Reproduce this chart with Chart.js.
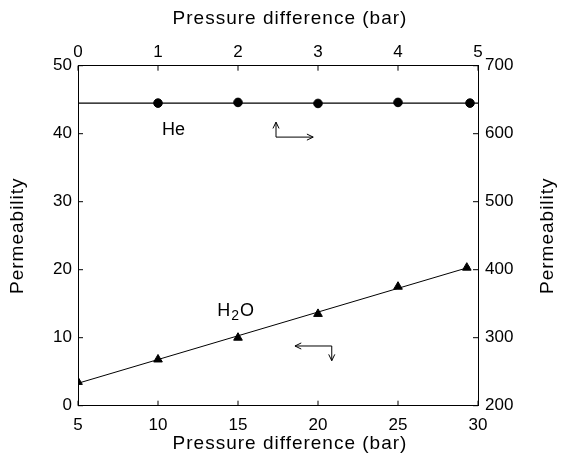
<!DOCTYPE html>
<html>
<head>
<meta charset="utf-8">
<script src="https://cdn.jsdelivr.net/npm/chart.js@4.4.1/dist/chart.umd.min.js"></script>
<style>
html,body{margin:0;padding:0;background:#fff;}
#wrap{width:561px;height:461px;position:relative;}
</style>
</head>
<body>
<div id="wrap"><canvas id="c" width="561" height="461"></canvas></div>
<script>
// ---- data ----
const heP = [1, 2, 3, 4, 4.9];                 // top axis, bar
const heVal = [645, 646, 644.5, 646, 645];     // right axis
const heFitP = [0, 5];
const heFitVal = [645, 645];
const h2oP = [5, 10, 15, 20, 25, 29.3];        // bottom axis, bar
const h2oVal = [3.5, 6.8, 10, 13.5, 17.5, 20.3]; // left axis
const h2oFitP = [5, 29.5];
const h2oFitVal = [3.3, 20.4];
const xTitle = 'Pressure difference (bar)';
const yTitle = 'Permeability';

const pts = (xs, ys) => xs.map((x, i) => ({x: x, y: ys[i]}));
const FONT = '"Liberation Sans", Arial, sans-serif';
const tickFont = {family: FONT, size: 17};

const annot = {
  he: {text: 'He', x: 1.05, y: 606},           // x2 / y2 units
  h2o: {x: 13.7, y: 13.9},                     // x / y units
  arrow1: {cx: 2.475, cy: 595, ux: 2.475, uy: 617, rx: 2.94, ry: 595},
  arrow2: {cx: 20.86, cy: 8.78, lx: 18.56, ly: 8.78, dx: 20.86, dy: 6.62}
};

const sizes = {left: 78, right: 83, top: 65.7, bottom: 55.3};

function arrowHead(ctx, x0, y0, x1, y1, len) {
  const a = Math.atan2(y1 - y0, x1 - x0);
  const w = 0.45;
  ctx.beginPath();
  ctx.moveTo(x1 - len * Math.cos(a - w), y1 - len * Math.sin(a - w));
  ctx.lineTo(x1, y1);
  ctx.lineTo(x1 - len * Math.cos(a + w), y1 - len * Math.sin(a + w));
  ctx.stroke();
}

const extras = {
  id: 'extras',
  afterDraw(chart) {
    const ctx = chart.ctx;
    const s = chart.scales;
    const ca = chart.chartArea;
    ctx.save();
    ctx.strokeStyle = '#000';
    ctx.fillStyle = '#000';
    ctx.lineWidth = 1;
    // inner ticks
    const tl = 5;
    s.x.ticks.forEach(t => { const p = s.x.getPixelForValue(t.value); ctx.beginPath(); ctx.moveTo(p, ca.bottom); ctx.lineTo(p, ca.bottom - tl); ctx.stroke(); });
    s.x2.ticks.forEach(t => { const p = s.x2.getPixelForValue(t.value); ctx.beginPath(); ctx.moveTo(p, ca.top); ctx.lineTo(p, ca.top + tl); ctx.stroke(); });
    s.y.ticks.forEach(t => { const p = s.y.getPixelForValue(t.value); ctx.beginPath(); ctx.moveTo(ca.left, p); ctx.lineTo(ca.left + tl, p); ctx.stroke(); });
    s.y2.ticks.forEach(t => { const p = s.y2.getPixelForValue(t.value); ctx.beginPath(); ctx.moveTo(ca.right, p); ctx.lineTo(ca.right - tl, p); ctx.stroke(); });

    // axis titles
    ctx.font = '19px ' + FONT;
    ctx.letterSpacing = '1px';
    ctx.textAlign = 'center';
    ctx.textBaseline = 'middle';
    const cx = (ca.left + ca.right) / 2 + 12;
    ctx.fillText(xTitle, cx, 19);
    ctx.fillText(xTitle, cx, 444);
    const cy = (ca.top + ca.bottom) / 2;
    ctx.save(); ctx.translate(18, cy); ctx.rotate(-Math.PI / 2); ctx.fillText(yTitle, 0, 0); ctx.restore();
    ctx.save(); ctx.translate(548, cy); ctx.rotate(-Math.PI / 2); ctx.fillText(yTitle, 0, 0); ctx.restore();
    ctx.letterSpacing = '0px';

    // series labels
    ctx.font = '18px ' + FONT;
    ctx.textAlign = 'left';
    ctx.fillText(annot.he.text, s.x2.getPixelForValue(annot.he.x), s.y2.getPixelForValue(annot.he.y));
    const hx = s.x.getPixelForValue(annot.h2o.x), hy = s.y.getPixelForValue(annot.h2o.y);
    ctx.fillText('H', hx, hy);
    let w = ctx.measureText('H').width;
    ctx.font = '14px ' + FONT;
    ctx.fillText('2', hx + w + 1, hy + 5);
    const w2 = ctx.measureText('2').width;
    ctx.font = '18px ' + FONT;
    ctx.fillText('O', hx + w + w2 + 2, hy);

    // arrows
    const a1 = annot.arrow1;
    const c1x = s.x2.getPixelForValue(a1.cx), c1y = s.y2.getPixelForValue(a1.cy);
    const u1x = s.x2.getPixelForValue(a1.ux), u1y = s.y2.getPixelForValue(a1.uy);
    const r1x = s.x2.getPixelForValue(a1.rx), r1y = s.y2.getPixelForValue(a1.ry);
    ctx.beginPath(); ctx.moveTo(u1x, u1y); ctx.lineTo(c1x, c1y); ctx.lineTo(r1x, r1y); ctx.stroke();
    arrowHead(ctx, c1x, c1y, u1x, u1y, 7);
    arrowHead(ctx, c1x, c1y, r1x, r1y, 7);
    const a2 = annot.arrow2;
    const c2x = s.x.getPixelForValue(a2.cx), c2y = s.y.getPixelForValue(a2.cy);
    const l2x = s.x.getPixelForValue(a2.lx), l2y = s.y.getPixelForValue(a2.ly);
    const d2x = s.x.getPixelForValue(a2.dx), d2y = s.y.getPixelForValue(a2.dy);
    ctx.beginPath(); ctx.moveTo(l2x, l2y); ctx.lineTo(c2x, c2y); ctx.lineTo(d2x, d2y); ctx.stroke();
    arrowHead(ctx, c2x, c2y, l2x, l2y, 7);
    arrowHead(ctx, c2x, c2y, d2x, d2y, 7);
    ctx.restore();
  }
};

function axis(pos, min, max, step, pad, fitKey) {
  return {
    type: 'linear', position: pos, min: min, max: max,
    grid: {display: false, drawTicks: false},
    border: {display: true, color: '#000', width: 1},
    ticks: {stepSize: step, color: '#000', font: tickFont, padding: pad, maxRotation: 0, autoSkip: false},
    title: {display: false},
    afterFit(sc) {
      if (pos === 'left' || pos === 'right') sc.width = sizes[fitKey];
      else sc.height = sizes[fitKey];
    }
  };
}

new Chart(document.getElementById('c'), {
  type: 'scatter',
  data: {
    datasets: [
      {data: pts(heFitP, heFitVal), xAxisID: 'x2', yAxisID: 'y2', showLine: true, pointRadius: 0, borderColor: '#000', borderWidth: 1.3},
      {data: pts(heP, heVal), xAxisID: 'x2', yAxisID: 'y2', pointStyle: 'circle', pointRadius: 4.3, backgroundColor: '#000', borderColor: '#000'},
      {data: pts(h2oFitP, h2oFitVal), xAxisID: 'x', yAxisID: 'y', showLine: true, pointRadius: 0, borderColor: '#000', borderWidth: 1},
      {data: pts(h2oP, h2oVal), xAxisID: 'x', yAxisID: 'y', pointStyle: 'triangle', pointRadius: 5, backgroundColor: '#000', borderColor: '#000'}
    ]
  },
  options: {
    responsive: false, animation: false, devicePixelRatio: 1,
    layout: {padding: 0},
    plugins: {legend: {display: false}, tooltip: {enabled: false}},
    scales: {
      x: axis('bottom', 5, 30, 5, 9, 'bottom'),
      x2: axis('top', 0, 5, 1, 3, 'top'),
      y: axis('left', 0, 50, 10, 6, 'left'),
      y2: axis('right', 200, 700, 100, 7, 'right')
    }
  },
  plugins: [extras]
});
</script>
</body>
</html>
